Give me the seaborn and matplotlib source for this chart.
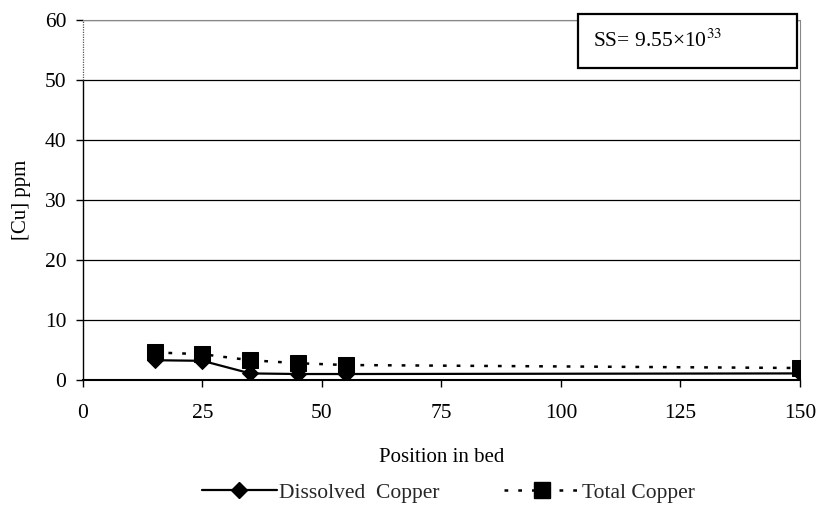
import matplotlib
matplotlib.use("Agg")
import matplotlib.pyplot as plt
import seaborn as sns
import pandas as pd
from matplotlib.lines import Line2D
from matplotlib.patches import Rectangle

position = [15, 25, 35, 45, 55, 150]
dissolved_copper = [3.3, 3.2, 1.1, 1.0, 1.0, 1.1]
total_copper = [4.6, 4.3, 3.3, 2.8, 2.5, 2.0]
x_ticks = [0, 25, 50, 75, 100, 125, 150]
y_ticks = [0, 10, 20, 30, 40, 50, 60]

sns.set_theme(style="white")
plt.rcParams["font.family"] = ["Liberation Serif", "DejaVu Serif"]
plt.rcParams["mathtext.fontset"] = "stix"

df = pd.DataFrame({"pos": position, "dis": dissolved_copper, "tot": total_copper})

fig = plt.figure(figsize=(8.22, 5.21), dpi=100)
ax = fig.add_axes([0.101, 0.2706, 0.872, 0.691])

for y in y_ticks[1:]:
    ax.axhline(y, color="black", lw=0.9, zorder=0)

dot_style = (0, (1.5, 4))
sns.lineplot(data=df, x="pos", y="tot", ax=ax, color="black", lw=1.8,
             linestyle=dot_style, marker="s", markersize=11,
             markeredgecolor="black", zorder=3)
sns.lineplot(data=df, x="pos", y="dis", ax=ax, color="black", lw=1.6,
             marker="D", markersize=8, markeredgecolor="black", zorder=4)

ax.set_xlim(0, 150)
ax.set_ylim(0, 60)
ax.set_xticks(x_ticks)
ax.set_yticks(y_ticks)
ax.tick_params(axis="both", labelsize=15.5, colors="black", length=5, width=1,
               direction="out", bottom=True, left=True)
ax.tick_params(axis="x", pad=12)
ax.tick_params(axis="y", pad=7)
ax.set_xlabel("Position in bed", fontsize=15, labelpad=18, color="black")
ax.set_ylabel("[Cu] ppm", fontsize=15, labelpad=10, color="black")

for side in ["top", "right"]:
    ax.spines[side].set_color("#888888")
    ax.spines[side].set_linestyle((0, (1, 1)))
    ax.spines[side].set_linewidth(0.8)
ax.spines["bottom"].set_color("black")
ax.spines["bottom"].set_linewidth(1.5)

# left axis: solid up to 50, dotted above
ax.spines["left"].set_visible(False)
ax.axvline(0, ymin=0, ymax=50 / 60, color="black", lw=1.0, clip_on=False, zorder=2)
ax.axvline(0, ymin=50 / 60, ymax=1, color="#555555", lw=0.9,
           linestyle=(0, (1, 1)), clip_on=False, zorder=2)

# annotation box with the sum of squares
ax.add_patch(Rectangle((0.690, 0.867), 0.306, 0.150, transform=ax.transAxes,
                       fc="white", ec="black", lw=1.6, clip_on=False, zorder=5))
ax.text(0.712, 0.942, r"SS= 9.55×10$^{33}$", transform=ax.transAxes,
        fontsize=15.5, va="center", ha="left", color="black", zorder=6)

handles = [
    Line2D([], [], color="black", lw=1.6, marker="D", markersize=8),
    Line2D([], [], color="black", lw=1.8, linestyle=dot_style,
           marker="s", markersize=11),
]
fig.legend(handles, ["Dissolved  Copper", "Total Copper"], loc="center",
           bbox_to_anchor=(0.545, 0.054), ncol=2, frameon=False, fontsize=15.5,
           handlelength=3.5, handletextpad=0.1, columnspacing=3.0)

fig.savefig("out.png", dpi=100)
